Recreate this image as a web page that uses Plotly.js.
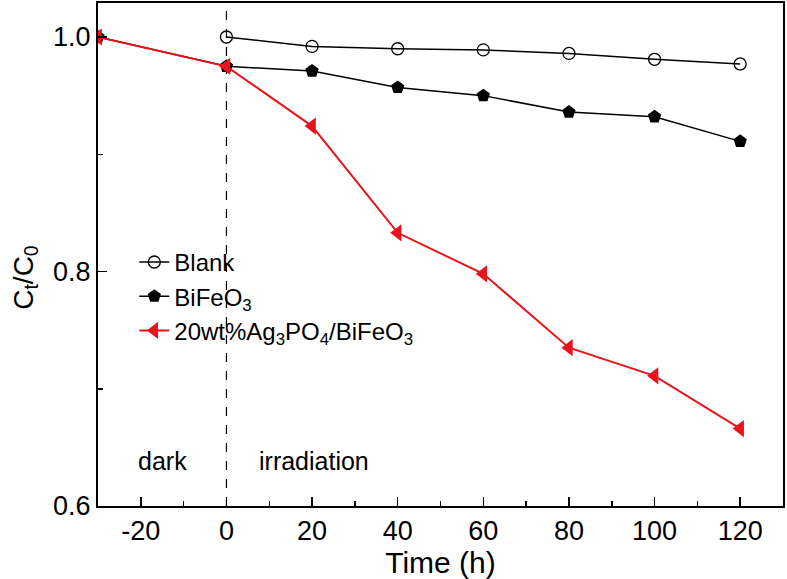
<!DOCTYPE html>
<html>
<head>
<meta charset="utf-8">
<script src="https://cdn.plot.ly/plotly-3.0.1.min.js"></script>
<style>html,body{margin:0;padding:0;background:#fff;}#chart{width:787px;height:579px;}</style>
</head>
<body>
<div id="chart"></div>
<script>
var timeBlank = [0, 20, 40, 60, 80, 100, 120];
var blank = [1.0, 0.992, 0.990, 0.989, 0.986, 0.981, 0.977];
var timeBFO = [-30, 0, 20, 40, 60, 80, 100, 120];
var bfo = [1.0, 0.975, 0.971, 0.957, 0.950, 0.936, 0.932, 0.911];
var timeAg = [-30, 0, 20, 40, 60, 80, 100, 120];
var ag = [1.0, 0.975, 0.924, 0.833, 0.798, 0.735, 0.711, 0.666];
var seriesNames = ['Blank', 'BiFeO<sub>3</sub>', '20wt%Ag<sub>3</sub>PO<sub>4</sub>/BiFeO<sub>3</sub>'];
var xTicks = [-20, 0, 20, 40, 60, 80, 100, 120];
var xTickText = ['-20', '0', '20', '40', '60', '80', '100', '120'];
var yTicks = [0.6, 0.8, 1.0];
var yTickText = ['0.6', '0.8', '1.0'];
var phaseLabels = ['dark', 'irradiation'];
var phaseX = [-15, 20.5];
var phaseY = [0.638, 0.638];
var yTitle = 'C<sub>t</sub>/C<sub>0</sub>';
var xTitle = 'Time (h)';

var font = 'Liberation Sans, Arial, sans-serif';
var traces = [
  {x: timeBlank, y: blank, name: seriesNames[0], mode: 'lines+markers', type: 'scatter',
   line: {color: '#000', width: 1.5},
   marker: {symbol: 'circle-open', size: 12, color: '#000', line: {width: 1.3, color: '#000'}}},
  {x: timeBFO, y: bfo, name: seriesNames[1], mode: 'lines+markers', type: 'scatter',
   line: {color: '#000', width: 1.5},
   marker: {symbol: 'pentagon', size: 14, color: '#000'}},
  {x: timeAg, y: ag, name: seriesNames[2], mode: 'lines+markers', type: 'scatter',
   line: {color: '#e8141c', width: 2},
   marker: {symbol: 'triangle-left', size: 15, color: '#e8141c'}}
];

var layout = {
  width: 787, height: 579,
  margin: {l: 98, r: 4, t: 3, b: 73},
  paper_bgcolor: '#fff', plot_bgcolor: '#fff',
  font: {family: font, color: '#000'},
  showlegend: true,
  legend: {x: 0.053, y: 0.529, xanchor: 'left', yanchor: 'top', bgcolor: 'rgba(0,0,0,0)',
           font: {family: font, size: 24, color: '#000'}, tracegroupgap: 0},
  xaxis: {
    range: [-30, 130], tickvals: xTicks, ticktext: xTickText, ticks: 'inside', ticklen: 9, tickwidth: 1.5, tickcolor: '#000',
    showline: true, mirror: true, linecolor: '#000', linewidth: 2, showgrid: false, zeroline: false,
    tickfont: {family: font, size: 27, color: '#000'},
    minor: {dtick: 10, ticks: 'inside', ticklen: 5, tickwidth: 1.5, tickcolor: '#000', showgrid: false},
    title: {text: xTitle, font: {family: font, size: 30, color: '#000'}, standoff: 6}
  },
  yaxis: {
    range: [0.6, 1.029], tickvals: yTicks, ticktext: yTickText, ticks: 'inside', ticklen: 9, tickwidth: 1.5, tickcolor: '#000',
    showline: true, mirror: true, linecolor: '#000', linewidth: 2, showgrid: false, zeroline: false,
    tickfont: {family: font, size: 27, color: '#000'},
    minor: {tickvals: [0.7, 0.9], ticks: 'inside', ticklen: 5, tickwidth: 1.5, tickcolor: '#000', showgrid: false}
  },
  shapes: [{type: 'line', xref: 'x', yref: 'paper', x0: 0, x1: 0, y0: 0, y1: 1,
            line: {color: '#000', width: 1.2, dash: 'dash'}, layer: 'below'}],
  annotations: phaseLabels.map(function(t, i) {
    return {text: t, x: phaseX[i], y: phaseY[i], xref: 'x', yref: 'y', showarrow: false,
            font: {family: font, size: 25, color: '#000'}};
  }).concat([{text: yTitle, textangle: -90, xref: 'paper', yref: 'paper', x: -0.107, y: 0.455,
              xanchor: 'center', yanchor: 'middle', showarrow: false,
              font: {family: font, size: 28, color: '#000'}}])
};

Plotly.newPlot('chart', traces, layout, {displayModeBar: false, staticPlot: true});
</script>
</body>
</html>
